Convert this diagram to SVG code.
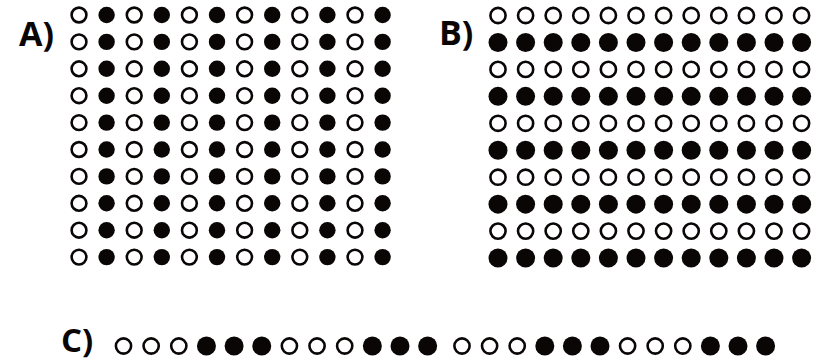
<svg xmlns="http://www.w3.org/2000/svg" xmlns:xlink="http://www.w3.org/1999/xlink" width="816" height="363" viewBox="0 0 816 363">
<style>
.o{fill:#fff;stroke:#0a0606;stroke-width:2.6}
.f{fill:#0a0606}
.lbl{font-family:"Open Sans","Noto Sans","Liberation Sans",sans-serif;font-weight:700;font-size:34px;fill:#0a0606}
</style>
<defs>
<g id="rowA">
<circle class="o" cx="79" cy="0" r="7.4"/><circle class="f" cx="106.6" cy="0" r="8.2"/>
<circle class="o" cx="134.2" cy="0" r="7.4"/><circle class="f" cx="161.8" cy="0" r="8.2"/>
<circle class="o" cx="189.4" cy="0" r="7.4"/><circle class="f" cx="217" cy="0" r="8.2"/>
<circle class="o" cx="244.6" cy="0" r="7.4"/><circle class="f" cx="272.2" cy="0" r="8.2"/>
<circle class="o" cx="299.8" cy="0" r="7.4"/><circle class="f" cx="327.4" cy="0" r="8.2"/>
<circle class="o" cx="355" cy="0" r="7.4"/><circle class="f" cx="382.6" cy="0" r="8.2"/>
</g>
<g id="rowBo">
<circle class="o" cx="498" cy="0" r="7.6"/><circle class="o" cx="525.6" cy="0" r="7.6"/>
<circle class="o" cx="553.2" cy="0" r="7.6"/><circle class="o" cx="580.8" cy="0" r="7.6"/>
<circle class="o" cx="608.4" cy="0" r="7.6"/><circle class="o" cx="636" cy="0" r="7.6"/>
<circle class="o" cx="663.6" cy="0" r="7.6"/><circle class="o" cx="691.2" cy="0" r="7.6"/>
<circle class="o" cx="718.8" cy="0" r="7.6"/><circle class="o" cx="746.4" cy="0" r="7.6"/>
<circle class="o" cx="774" cy="0" r="7.6"/><circle class="o" cx="801.6" cy="0" r="7.6"/>
</g>
<g id="rowBf">
<circle class="f" cx="498" cy="0" r="9.5"/><circle class="f" cx="525.6" cy="0" r="9.5"/>
<circle class="f" cx="553.2" cy="0" r="9.5"/><circle class="f" cx="580.8" cy="0" r="9.5"/>
<circle class="f" cx="608.4" cy="0" r="9.5"/><circle class="f" cx="636" cy="0" r="9.5"/>
<circle class="f" cx="663.6" cy="0" r="9.5"/><circle class="f" cx="691.2" cy="0" r="9.5"/>
<circle class="f" cx="718.8" cy="0" r="9.5"/><circle class="f" cx="746.4" cy="0" r="9.5"/>
<circle class="f" cx="774" cy="0" r="9.5"/><circle class="f" cx="801.6" cy="0" r="9.5"/>
</g>
</defs>

<g id="panelA">
<text class="lbl" x="19" y="46">A)</text>
<use xlink:href="#rowA" href="#rowA" y="15"/>
<use xlink:href="#rowA" href="#rowA" y="41.9"/>
<use xlink:href="#rowA" href="#rowA" y="68.8"/>
<use xlink:href="#rowA" href="#rowA" y="95.7"/>
<use xlink:href="#rowA" href="#rowA" y="122.6"/>
<use xlink:href="#rowA" href="#rowA" y="149.5"/>
<use xlink:href="#rowA" href="#rowA" y="176.4"/>
<use xlink:href="#rowA" href="#rowA" y="203.3"/>
<use xlink:href="#rowA" href="#rowA" y="230.2"/>
<use xlink:href="#rowA" href="#rowA" y="257.1"/>
</g>

<g id="panelB">
<text class="lbl" x="439" y="45">B)</text>
<use xlink:href="#rowBo" href="#rowBo" y="15.5"/>
<use xlink:href="#rowBf" href="#rowBf" y="42.45"/>
<use xlink:href="#rowBo" href="#rowBo" y="69.4"/>
<use xlink:href="#rowBf" href="#rowBf" y="96.35"/>
<use xlink:href="#rowBo" href="#rowBo" y="123.3"/>
<use xlink:href="#rowBf" href="#rowBf" y="150.25"/>
<use xlink:href="#rowBo" href="#rowBo" y="177.2"/>
<use xlink:href="#rowBf" href="#rowBf" y="204.15"/>
<use xlink:href="#rowBo" href="#rowBo" y="231.1"/>
<use xlink:href="#rowBf" href="#rowBf" y="258.05"/>
</g>

<g id="panelC">
<text class="lbl" x="61" y="352" style="font-size:33px">C)</text>
<circle class="o" cx="123.5" cy="346" r="7.6"/>
<circle class="o" cx="151.15" cy="346" r="7.6"/>
<circle class="o" cx="178.8" cy="346" r="7.6"/>
<circle class="f" cx="206.45" cy="346" r="9.5"/>
<circle class="f" cx="234.1" cy="346" r="9.5"/>
<circle class="f" cx="261.75" cy="346" r="9.5"/>
<circle class="o" cx="289.4" cy="346" r="7.6"/>
<circle class="o" cx="317.05" cy="346" r="7.6"/>
<circle class="o" cx="344.7" cy="346" r="7.6"/>
<circle class="f" cx="372.35" cy="346" r="9.5"/>
<circle class="f" cx="400" cy="346" r="9.5"/>
<circle class="f" cx="427.65" cy="346" r="9.5"/>
<circle class="o" cx="462" cy="346" r="7.6"/>
<circle class="o" cx="489.6" cy="346" r="7.6"/>
<circle class="o" cx="517.2" cy="346" r="7.6"/>
<circle class="f" cx="544.8" cy="346" r="9.5"/>
<circle class="f" cx="572.4" cy="346" r="9.5"/>
<circle class="f" cx="600" cy="346" r="9.5"/>
<circle class="o" cx="627.6" cy="346" r="7.6"/>
<circle class="o" cx="655.2" cy="346" r="7.6"/>
<circle class="o" cx="682.8" cy="346" r="7.6"/>
<circle class="f" cx="710.4" cy="346" r="9.5"/>
<circle class="f" cx="738" cy="346" r="9.5"/>
<circle class="f" cx="765.6" cy="346" r="9.5"/>
</g>
</svg>
